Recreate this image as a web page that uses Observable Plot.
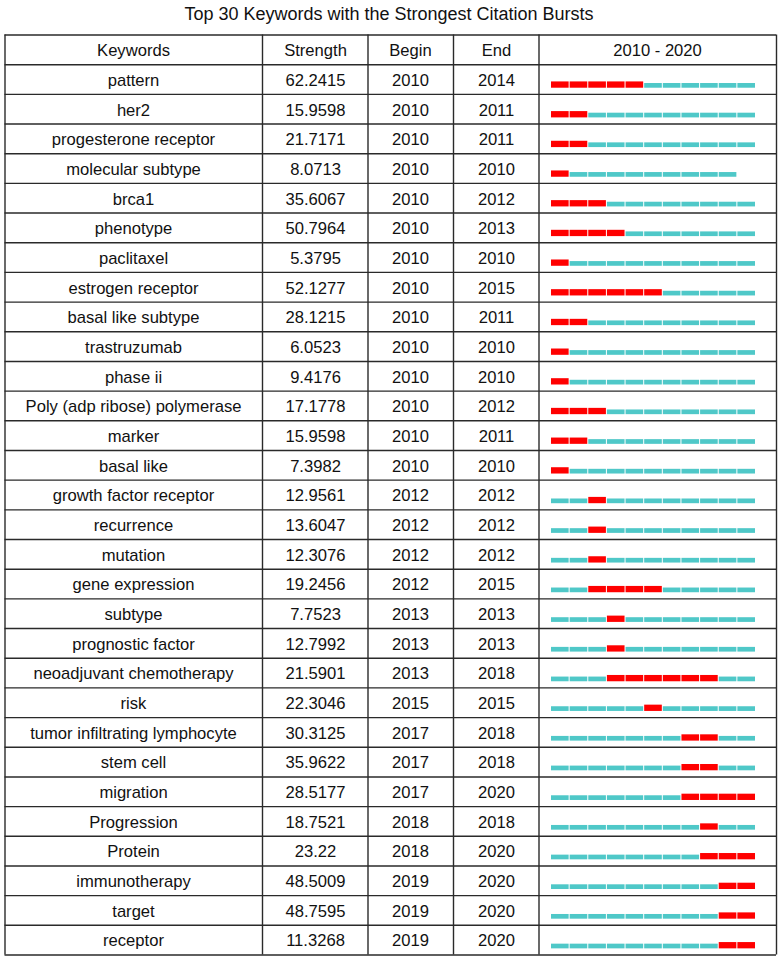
<!DOCTYPE html>
<html>
<head>
<meta charset="utf-8">
<script src="https://cdn.jsdelivr.net/npm/d3@7"></script>
<script src="https://cdn.jsdelivr.net/npm/@observablehq/plot@0.6"></script>
<style>
  html, body { margin: 0; padding: 0; background: #fff; }
  #title { width: 778px; height: 34px; line-height: 28px; text-align: center;
           font-family: "Liberation Sans", Arial, sans-serif; font-size: 18px; color: #111; }
  svg { display: block; }
</style>
</head>
<body>
<div id="title">Top 30 Keywords with the Strongest Citation Bursts</div>
<div id="chart"></div>
<script>
const keywords = ["pattern","her2","progesterone receptor","molecular subtype","brca1","phenotype","paclitaxel","estrogen receptor","basal like subtype","trastruzumab","phase ii","Poly (adp ribose) polymerase","marker","basal like","growth factor receptor","recurrence","mutation","gene expression","subtype","prognostic factor","neoadjuvant chemotherapy","risk","tumor infiltrating lymphocyte","stem cell","migration","Progression","Protein","immunotherapy","target","receptor"];
const strengths = ["62.2415","15.9598","21.7171","8.0713","35.6067","50.7964","5.3795","52.1277","28.1215","6.0523","9.4176","17.1778","15.9598","7.3982","12.9561","13.6047","12.3076","19.2456","7.7523","12.7992","21.5901","22.3046","30.3125","35.9622","28.5177","18.7521","23.22","48.5009","48.7595","11.3268"];
const begins = [2010,2010,2010,2010,2010,2010,2010,2010,2010,2010,2010,2010,2010,2010,2012,2012,2012,2012,2013,2013,2013,2015,2017,2017,2017,2018,2018,2019,2019,2019];
const ends =   [2014,2011,2011,2010,2012,2013,2010,2015,2011,2010,2010,2012,2011,2010,2012,2012,2012,2015,2013,2013,2018,2015,2018,2018,2020,2018,2020,2020,2020,2020];
// last year drawn in the timeline of each row (the molecular subtype row stops one segment short)
const drawnTo = [2020,2020,2020,2019,2020,2020,2020,2020,2020,2020,2020,2020,2020,2020,2020,2020,2020,2020,2020,2020,2020,2020,2020,2020,2020,2020,2020,2020,2020,2020];
const headers = ["Keywords","Strength","Begin","End","2010 - 2020"];
const yearStart = 2010, yearEnd = 2020;

// layout (pixels)
const W = 778, H = 922;
const barX0 = 551, barX1 = 756;
const colEdgesPx = [4.5, 262, 367.5, 453, 538.5, 776];
const colCentersPx = [133, 315, 410, 496, 657];
const toX = px => yearStart + (px - barX0) * (yearEnd + 1 - yearStart) / (barX1 - barX0);

const rows = keywords.map((k, i) => ({i: i + 1, keyword: k, strength: strengths[i], begin: String(begins[i]), end: String(ends[i])}));
const segs = [];
keywords.forEach((k, j) => {
  for (let yr = yearStart; yr <= drawnTo[j]; yr++) {
    segs.push({i: j + 1, year: yr, burst: yr >= begins[j] && yr <= ends[j]});
  }
});
const nRows = rows.length + 1;
const rowPx = 920 / nRows;
const red = "#ff0000", teal = "#4fc8c8";
const gridColor = "#2a2a2a";

const textOpts = {fontSize: 16.6, fill: "#111", dy: 1};
const cols = ["keyword", "strength", "begin", "end"];

const marks = [
  // bars
  Plot.rect(segs.filter(d => !d.burst), {x1: "year", x2: d => d.year + 1, y1: "i", y2: d => d.i + 1,
    fill: teal, insetRight: 1, insetTop: rowPx / 2 + 4, insetBottom: rowPx / 2 - 8.7}),
  Plot.rect(segs.filter(d => d.burst), {x1: "year", x2: d => d.year + 1, y1: "i", y2: d => d.i + 1,
    fill: red, insetRight: 1, insetTop: rowPx / 2 + 2.4, insetBottom: rowPx / 2 - 8.7}),
  // grid
  Plot.ruleY(d3.range(0, nRows + 1), {x1: toX(colEdgesPx[0]), x2: toX(colEdgesPx[5]), stroke: gridColor, strokeWidth: 1.4}),
  Plot.ruleX(colEdgesPx.map(toX), {y1: 0, y2: nRows, stroke: gridColor, strokeWidth: 1.4}),
  // header
  Plot.text(headers, {x: (d, k) => toX(colCentersPx[k]), y: 0.5, text: d => d, ...textOpts}),
  // cells
  ...cols.map((c, k) => Plot.text(rows, {x: () => toX(colCentersPx[k]), y: d => d.i + 0.5, text: c, ...textOpts}))
];

const chart = Plot.plot({
  width: W, height: H,
  marginTop: 0, marginRight: 0, marginBottom: 0, marginLeft: 0,
  x: {domain: [yearStart, yearEnd + 1], range: [barX0, barX1], axis: null},
  y: {domain: [0, nRows], range: [0.5, 920.5], axis: null},
  style: {fontFamily: "'Liberation Sans', Arial, sans-serif", background: "#fff", overflow: "visible"},
  marks
});
document.getElementById("chart").appendChild(chart);
</script>
</body>
</html>
